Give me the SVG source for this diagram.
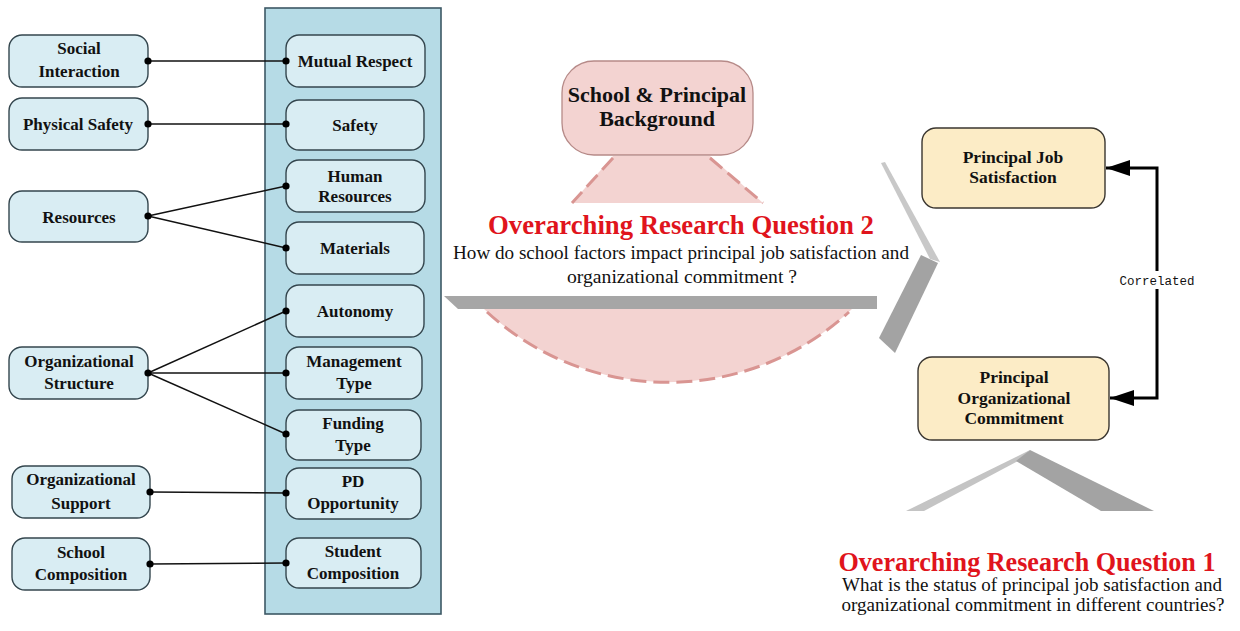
<svg xmlns="http://www.w3.org/2000/svg" width="1240" height="631" viewBox="0 0 1240 631">
  <defs>
    <style>
      .factor { fill: #d9edf3; stroke: #34464e; stroke-width: 1.4; }
      .outcome { fill: #fcecc6; stroke: #3a3630; stroke-width: 1.4; }
      .lbl { font-family: "Liberation Serif", "Times New Roman", serif; font-weight: bold; font-size: 17px; fill: #111; text-anchor: middle; }
      .lbl2 { font-family: "Liberation Serif", "Times New Roman", serif; font-weight: bold; font-size: 17.5px; fill: #111; text-anchor: middle; }
      .lbl3 { font-family: "Liberation Serif", "Times New Roman", serif; font-weight: bold; font-size: 22px; fill: #111; text-anchor: middle; }
      .link { stroke: #111; stroke-width: 1.4; fill: none; }
      .dot { fill: #000; }
      .rq { font-family: "Liberation Serif", "Times New Roman", serif; font-weight: bold; font-size: 26.5px; fill: #e0141c; text-anchor: middle; }
      .rqtext { font-family: "Liberation Serif", "Times New Roman", serif; font-size: 18px; fill: #111; text-anchor: middle; }
      .dash { stroke: #d99592; stroke-width: 3; stroke-dasharray: 16 7; fill: none; }
      .band { fill: #a6a6a6; }
    </style>
    <marker id="arrow" viewBox="0 0 24 16" refX="24" refY="8" markerWidth="24" markerHeight="16" markerUnits="userSpaceOnUse" orient="auto">
      <path d="M0,0 L24,8 L0,16 Z" fill="#000"/>
    </marker>
  </defs>

  <rect width="1240" height="631" fill="#ffffff"/>

  <!-- container for school factors -->
  <rect id="factor-panel" x="265" y="8" width="176" height="606" fill="#b6dbe6" stroke="#3d5865" stroke-width="1.6"/>

  <!-- central background lens -->
  <g id="background-lens">
    <path d="M613 156 L710 156 L763 203 L572 203 Z" fill="#f3d3d1"/>
    <path class="dash" d="M613 158 L572 203"/>
    <path class="dash" d="M710 158 L763 203"/>
    <path d="M484 309 A268 268 0 0 0 852 309 Z" fill="#f3d3d1"/>
    <path class="dash" d="M487 312 A268 268 0 0 0 849 312"/>
    <polygon class="band" points="444,296 877,296 877,309 458,309"/>
  </g>

  <!-- chevrons -->
  <g id="chevron-right">
    <polygon points="881,163 885,162 940,262 930,259" fill="#c8c8c8"/>
    <polygon points="921,255 938,263 895,353 879,338" fill="#a3a3a3"/>
  </g>
  <g id="chevron-up">
    <polygon points="906,511 924,511 1018,461 1030,450" fill="#c4c4c4"/>
    <polygon points="1030,450 1154,511 1101,511 1016,461" fill="#a3a3a3"/>
  </g>

  <!-- left-hand factor groups -->
  <g id="social-interaction">
    <rect class="factor" x="9" y="35" width="139" height="52" rx="13"/>
    <text class="lbl" x="79" y="54">Social</text>
    <text class="lbl" x="79" y="77">Interaction</text>
  </g>
  <g id="physical-safety">
    <rect class="factor" x="9" y="98" width="139" height="52" rx="13"/>
    <text class="lbl" x="78" y="130">Physical Safety</text>
  </g>
  <g id="resources">
    <rect class="factor" x="9" y="191" width="139" height="51" rx="13"/>
    <text class="lbl" x="79" y="223">Resources</text>
  </g>
  <g id="organizational-structure">
    <rect class="factor" x="9" y="347" width="139" height="52" rx="13"/>
    <text class="lbl" x="79" y="367">Organizational</text>
    <text class="lbl" x="79" y="389">Structure</text>
  </g>
  <g id="organizational-support">
    <rect class="factor" x="12" y="466" width="138" height="52" rx="13"/>
    <text class="lbl" x="81" y="485">Organizational</text>
    <text class="lbl" x="81" y="509">Support</text>
  </g>
  <g id="school-composition">
    <rect class="factor" x="12" y="538" width="138" height="52" rx="13"/>
    <text class="lbl" x="81" y="558">School</text>
    <text class="lbl" x="81" y="580">Composition</text>
  </g>

  <!-- school factor measures -->
  <g id="mutual-respect">
    <rect class="factor" x="286" y="35" width="139" height="52" rx="13"/>
    <text class="lbl" x="355" y="67">Mutual Respect</text>
  </g>
  <g id="safety">
    <rect class="factor" x="286" y="100" width="138" height="50" rx="13"/>
    <text class="lbl" x="355" y="131">Safety</text>
  </g>
  <g id="human-resources">
    <rect class="factor" x="286" y="160" width="139" height="52" rx="13"/>
    <text class="lbl" x="355" y="182">Human</text>
    <text class="lbl" x="355" y="202">Resources</text>
  </g>
  <g id="materials">
    <rect class="factor" x="286" y="222" width="138" height="52" rx="13"/>
    <text class="lbl" x="355" y="254">Materials</text>
  </g>
  <g id="autonomy">
    <rect class="factor" x="286" y="285" width="138" height="52" rx="13"/>
    <text class="lbl" x="355" y="317">Autonomy</text>
  </g>
  <g id="management-type">
    <rect class="factor" x="286" y="347" width="136" height="52" rx="13"/>
    <text class="lbl" x="354" y="367">Management</text>
    <text class="lbl" x="354" y="389">Type</text>
  </g>
  <g id="funding-type">
    <rect class="factor" x="286" y="410" width="135" height="50" rx="13"/>
    <text class="lbl" x="353" y="429">Funding</text>
    <text class="lbl" x="353" y="451">Type</text>
  </g>
  <g id="pd-opportunity">
    <rect class="factor" x="286" y="468" width="135" height="51" rx="13"/>
    <text class="lbl" x="353" y="487">PD</text>
    <text class="lbl" x="353" y="509">Opportunity</text>
  </g>
  <g id="student-composition">
    <rect class="factor" x="286" y="538" width="135" height="50" rx="13"/>
    <text class="lbl" x="353" y="557">Student</text>
    <text class="lbl" x="353" y="579">Composition</text>
  </g>

  <!-- background box -->
  <g id="school-principal-background">
    <rect x="562" y="61" width="191" height="94" rx="32" fill="#f3d3d1" stroke="#b68a88" stroke-width="1.3"/>
    <text class="lbl3" x="657" y="102">School &amp; Principal</text>
    <text class="lbl3" x="657" y="126">Background</text>
  </g>

  <!-- research question 2 -->
  <g id="rq2">
    <text class="rq" x="681" y="234" textLength="386" lengthAdjust="spacingAndGlyphs">Overarching Research Question 2</text>
    <text class="rqtext" x="681" y="259" textLength="456" lengthAdjust="spacingAndGlyphs">How do school factors impact principal job satisfaction and</text>
    <text class="rqtext" x="682" y="283" textLength="230" lengthAdjust="spacingAndGlyphs">organizational commitment ?</text>
  </g>

  <!-- outcomes -->
  <g id="job-satisfaction">
    <rect class="outcome" x="922" y="128" width="183" height="80" rx="14"/>
    <text class="lbl2" x="1013" y="163">Principal Job</text>
    <text class="lbl2" x="1013" y="183">Satisfaction</text>
  </g>
  <g id="organizational-commitment">
    <rect class="outcome" x="918" y="357" width="191" height="83" rx="14"/>
    <text class="lbl2" x="1014" y="383">Principal</text>
    <text class="lbl2" x="1014" y="404">Organizational</text>
    <text class="lbl2" x="1014" y="424">Commitment</text>
  </g>

  <!-- research question 1 -->
  <g id="rq1">
    <text class="rq" x="1027" y="571" textLength="377" lengthAdjust="spacingAndGlyphs">Overarching Research Question 1</text>
    <text class="rqtext" x="1032" y="591" textLength="380" lengthAdjust="spacingAndGlyphs">What is the status of principal job satisfaction and</text>
    <text class="rqtext" x="1033" y="611" textLength="383" lengthAdjust="spacingAndGlyphs">organizational commitment in different countries?</text>
  </g>

  <!-- connectors -->
  <g id="connectors">
    <path class="link" d="M148 61 L286 61"/>
    <path class="link" d="M148 124 L286 124"/>
    <path class="link" d="M148 216 L286 186"/>
    <path class="link" d="M148 216 L286 248"/>
    <path class="link" d="M148 373 L286 311"/>
    <path class="link" d="M148 373 L286 373"/>
    <path class="link" d="M148 373 L286 434"/>
    <path class="link" d="M150 492 L286 493"/>
    <path class="link" d="M150 564 L286 563"/>
    <circle class="dot" cx="148" cy="61" r="3.6"/>
    <circle class="dot" cx="286" cy="61" r="3.6"/>
    <circle class="dot" cx="148" cy="124" r="3.6"/>
    <circle class="dot" cx="286" cy="124" r="3.6"/>
    <circle class="dot" cx="148" cy="216" r="3.6"/>
    <circle class="dot" cx="286" cy="186" r="3.6"/>
    <circle class="dot" cx="286" cy="248" r="3.6"/>
    <circle class="dot" cx="148" cy="373" r="3.6"/>
    <circle class="dot" cx="286" cy="311" r="3.6"/>
    <circle class="dot" cx="286" cy="373" r="3.6"/>
    <circle class="dot" cx="286" cy="434" r="3.6"/>
    <circle class="dot" cx="150" cy="492" r="3.6"/>
    <circle class="dot" cx="286" cy="493" r="3.6"/>
    <circle class="dot" cx="150" cy="564" r="3.6"/>
    <circle class="dot" cx="286" cy="563" r="3.6"/>
    <path d="M1157 281 L1157 168 L1106 168" fill="none" stroke="#000" stroke-width="3" marker-end="url(#arrow)"/>
    <path d="M1157 281 L1157 398 L1110 398" fill="none" stroke="#000" stroke-width="3" marker-end="url(#arrow)"/>
    <rect x="1116" y="271" width="82" height="18" fill="#ffffff"/>
    <text x="1157" y="285" font-family="Liberation Mono, Courier New, monospace" font-size="12.5" fill="#111" text-anchor="middle">Correlated</text>
  </g>
</svg>
